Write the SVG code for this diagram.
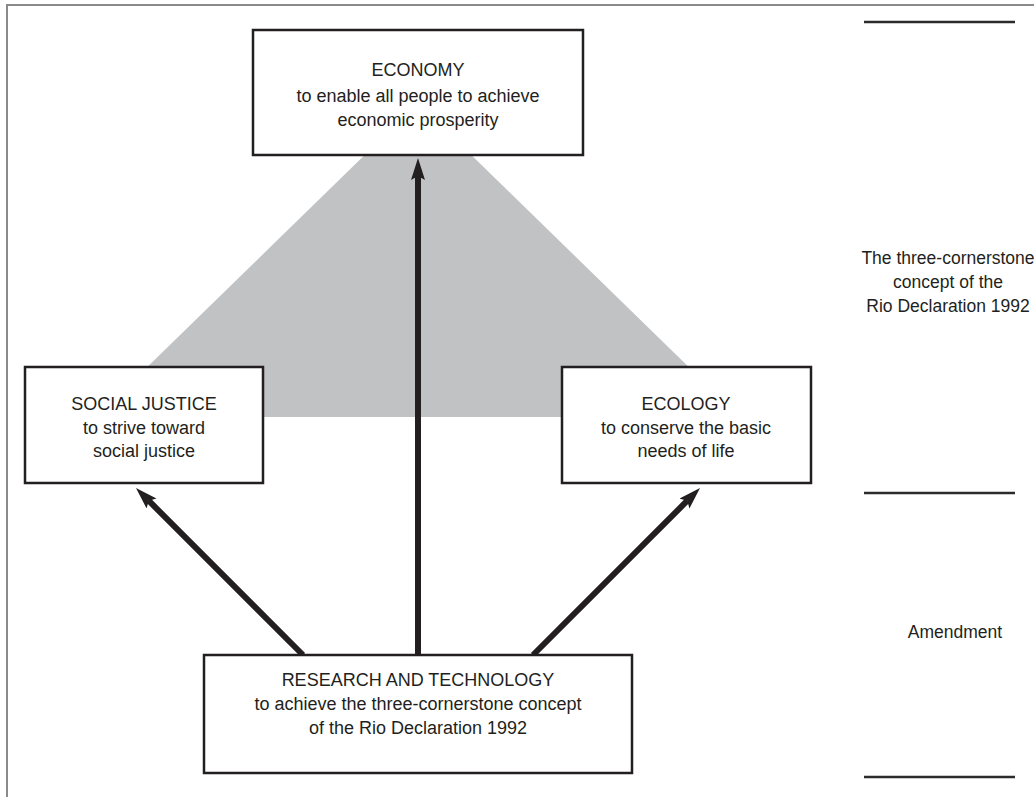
<svg xmlns="http://www.w3.org/2000/svg" width="1034" height="797" viewBox="0 0 1034 797">
<defs>
<style>
.box{fill:#fff;stroke:#231f20;stroke-width:2.5}
.t{font-family:"Liberation Sans",Arial,sans-serif;font-size:18px;fill:#231f20;text-anchor:middle}
.s{font-family:"Liberation Sans",Arial,sans-serif;font-size:17.5px;fill:#231f20;text-anchor:middle}
.conn{stroke:#231f20;stroke-width:6;fill:none;marker-end:url(#ah)}
.rule{stroke:#2b2b2b;stroke-width:2.5}
.frame{stroke:#8a8a8a;stroke-width:2;fill:none}
</style>
<marker id="ah" markerUnits="userSpaceOnUse" markerWidth="24" markerHeight="16" refX="4" refY="7" orient="auto">
<path d="M0,0 L22,7 L0,14 L4,7 z" fill="#231f20"/>
</marker>
</defs>
<rect x="0" y="0" width="1034" height="797" fill="#fff"/>
<path class="frame" d="M7,797 L7,5 L1034,5"/>
<polygon points="418,103 740,417 96,417" fill="#c1c2c4"/>
<g id="connectors">
<line class="conn" x1="418" y1="655" x2="418" y2="176"/>
<line class="conn" x1="303" y1="655" x2="148.7" y2="500.7"/>
<line class="conn" x1="533" y1="655" x2="687.3" y2="500.7"/>
</g>
<g id="economy">
<rect class="box" x="253" y="30" width="330" height="125"/>
<text class="t" x="418" y="76">ECONOMY</text>
<text class="t" x="418" y="102">to enable all people to achieve</text>
<text class="t" x="418" y="126">economic prosperity</text>
</g>
<g id="social">
<rect class="box" x="25" y="367" width="238" height="116"/>
<text class="t" x="144" y="410">SOCIAL JUSTICE</text>
<text class="t" x="144" y="434">to strive toward</text>
<text class="t" x="144" y="457">social justice</text>
</g>
<g id="ecology">
<rect class="box" x="562" y="367" width="249" height="116"/>
<text class="t" x="686" y="410">ECOLOGY</text>
<text class="t" x="686" y="434">to conserve the basic</text>
<text class="t" x="686" y="457">needs of life</text>
</g>
<g id="research">
<rect class="box" x="204" y="655" width="428" height="118"/>
<text class="t" x="418" y="686">RESEARCH AND TECHNOLOGY</text>
<text class="t" x="418" y="710">to achieve the three-cornerstone concept</text>
<text class="t" x="418" y="734">of the Rio Declaration 1992</text>
</g>
<g id="side">
<line class="rule" x1="864" y1="22" x2="1015" y2="22"/>
<line class="rule" x1="864" y1="493" x2="1015" y2="493"/>
<line class="rule" x1="864" y1="777" x2="1015" y2="777"/>
<text class="s" x="948" y="264">The three-cornerstone</text>
<text class="s" x="948" y="288">concept of the</text>
<text class="s" x="948" y="312">Rio Declaration 1992</text>
<text class="s" x="955" y="638">Amendment</text>
</g>
</svg>
